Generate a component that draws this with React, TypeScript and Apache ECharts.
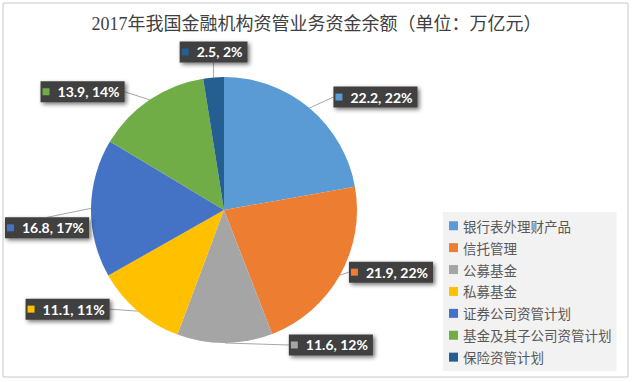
import React, { useEffect, useRef } from "react";
import * as echarts from "echarts";

const categories = ["银行表外理财产品", "信托管理", "公募基金", "私募基金", "证券公司资管计划", "基金及其子公司资管计划", "保险资管计划"];
const values = [22.2, 21.9, 11.6, 11.1, 16.8, 13.9, 2.5];
const colors = ["#5B9BD5", "#ED7D31", "#A5A5A5", "#FFC000", "#4472C4", "#70AD47", "#255E91"];
const titleText = "2017年我国金融机构资管业务资金余额（单位：万亿元）";

// label placement relative to the slice's outer edge point (layout, not data)
type Place = { ax: "left" | "right" | "center"; ay: "top" | "middle" | "bottom"; dx: number; dy: number; side: "l" | "r" | "t" | "b" };
const labelPlaces: Place[] = [
  { ax: "left", ay: "middle", dx: 24, dy: -11, side: "l" },
  { ax: "left", ay: "middle", dx: 9, dy: -3, side: "l" },
  { ax: "left", ay: "middle", dx: 64, dy: 2, side: "l" },
  { ax: "right", ay: "middle", dx: -28, dy: -2, side: "r" },
  { ax: "center", ay: "top", dx: -44, dy: 9, side: "t" },
  { ax: "right", ay: "middle", dx: -25, dy: -8, side: "r" },
  { ax: "center", ay: "bottom", dx: 0, dy: -15, side: "b" },
];

export default function App() {
  const ref = useRef<HTMLDivElement>(null);
  useEffect(() => {
    document.body.style.margin = "0";
    const chart = echarts.init(ref.current!, null, { renderer: "svg" });
    const rich: any = {
      t: { color: "#fff", fontSize: 14, lineHeight: 15, fontWeight: "bold", fontFamily: "Lato, 'Open Sans', sans-serif", padding: [0, 0, 0, 8] },
    };
    colors.forEach((c, i) => {
      rich["sq" + i] = { width: 7, height: 7, backgroundColor: c };
    });
    chart.setOption({
      animation: false,
      backgroundColor: "#fff",
      title: {
        text: titleText,
        left: "center",
        top: 10,
        textStyle: { fontSize: 18, fontWeight: "normal", color: "#404040", fontFamily: "'Liberation Serif', 'Noto Sans CJK SC', serif" },
      },
      graphic: [
        { type: "rect", shape: { x: 3, y: 3, width: 625, height: 374 }, style: { fill: "none", stroke: "#C8C8C8", lineWidth: 1 }, z: -1 },
      ],
      legend: {
        orient: "vertical",
        left: 443,
        top: 212,
        padding: [7, 5, 7, 6],
        backgroundColor: "#F2F2F2",
        itemWidth: 9,
        itemHeight: 9,
        itemGap: 8.4,
        icon: "rect",
        textStyle: { fontSize: 13.5, lineHeight: 13, color: "#595959", fontFamily: "'Noto Sans CJK SC', sans-serif" },
        data: categories,
      },
      series: [
        {
          type: "pie",
          center: [224, 210],
          radius: 133,
          startAngle: 90,
          clockwise: true,
          percentPrecision: 0,
          avoidLabelOverlap: false,
          data: categories.map((name, i) => ({ name, value: values[i], itemStyle: { color: colors[i] } })),
          label: {
            show: true,
            position: "outside",
            formatter: (p: any) => `{sq${p.dataIndex}|}{t|${p.value}, ${p.percent}%}`,
            rich,
            backgroundColor: "#404040",
            padding: [3, 5, 3, 2],
            shadowColor: "rgba(0,0,0,0.55)",
            shadowBlur: 4,
            shadowOffsetX: 2,
            shadowOffsetY: 2,
          },
          labelLine: { show: true, length: 12, length2: 10, lineStyle: { color: "#A6A6A6", width: 1 } },
          labelLayout: (params: any) => {
            const pl = labelPlaces[params.dataIndex];
            if (!pl || !params.labelLinePoints) return {};
            const p0 = params.labelLinePoints[0];
            const w = params.labelRect.width;
            const h = params.labelRect.height;
            const ax = p0[0] + pl.dx;
            const ay = p0[1] + pl.dy;
            const left = pl.ax === "left" ? ax : pl.ax === "right" ? ax - w : ax - w / 2;
            const top = pl.ay === "top" ? ay : pl.ay === "bottom" ? ay - h : ay - h / 2;
            let end: number[];
            if (pl.side === "l") end = [left, top + h / 2];
            else if (pl.side === "r") end = [left + w, top + h / 2];
            else if (pl.side === "t") end = [left + w / 2, top];
            else end = [p0[0], top + h];
            return {
              x: left,
              y: top,
              align: "left",
              verticalAlign: "top",
              labelLinePoints: [p0, end, end],
            };
          },
        },
      ],
    });
    return () => chart.dispose();
  }, []);
  return <div ref={ref} style={{ width: 633, height: 382 }} />;
}
